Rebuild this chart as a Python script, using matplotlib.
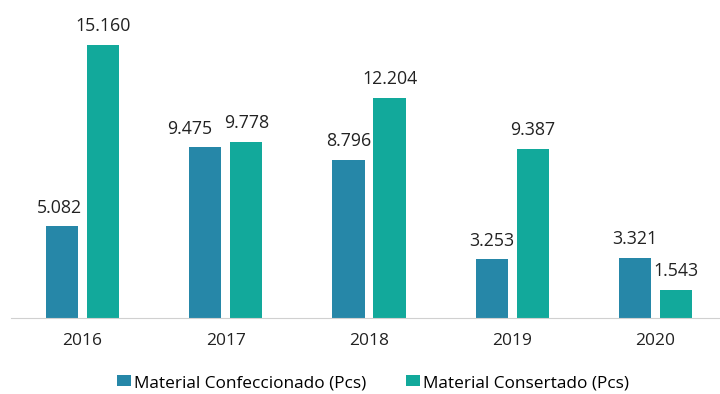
import matplotlib.pyplot as plt
import numpy as np

years = ['2016', '2017', '2018', '2019', '2020']
confeccionado = [5082, 9475, 8796, 3253, 3321]
consertado = [15160, 9778, 12204, 9387, 1543]
labels_conf = ['5.082', '9.475', '8.796', '3.253', '3.321']
labels_cons = ['15.160', '9.778', '12.204', '9.387', '1.543']
# horizontal nudge (points) of labels moved by hand in the original
nudge_conf = [-2, -11, 0, 0, 0]

blue = '#2687A8'
teal = '#12A99B'

plt.rcParams['font.family'] = ['Open Sans', 'DejaVu Sans']

fig = plt.figure(figsize=(7.2, 3.94), dpi=100)
ax = fig.add_axes([11/720, 1-318/394, 709/720, 308/394])

x = np.arange(len(years))
w = 0.225
off = 0.143
b1 = ax.bar(x - off, confeccionado, w, color=blue, label='Material Confeccionado (Pcs)')
b2 = ax.bar(x + off, consertado, w, color=teal, label='Material Consertado (Pcs)')

for rect, t, dx in zip(b1, labels_conf, nudge_conf):
    ax.annotate(t, (rect.get_x() + rect.get_width()/2, rect.get_height()),
                xytext=(dx, 7), textcoords='offset points', ha='center', va='bottom',
                fontsize=12.8, color='#222222')
for rect, t in zip(b2, labels_cons):
    ax.annotate(t, (rect.get_x() + rect.get_width()/2, rect.get_height()),
                xytext=(0, 7), textcoords='offset points', ha='center', va='bottom',
                fontsize=12.8, color='#222222')

ax.set_xlim(-0.5, 4.45)
ax.set_ylim(0, 17100)
ax.set_xticks(x)
ax.set_xticklabels(years, fontsize=12.5, color='#222222')
ax.set_yticks([])
for s in ['top', 'right', 'left']:
    ax.spines[s].set_visible(False)
ax.spines['bottom'].set_color('#D0D0D0')
ax.tick_params(axis='x', length=0, pad=11)

fig.legend(loc='center', bbox_to_anchor=(373/720, 1-383/394), ncol=2, frameon=False,
           fontsize=12.4, handlelength=0.8, handleheight=0.6, columnspacing=2.3,
           handletextpad=0.2)

fig.savefig('out.png', dpi=100)
